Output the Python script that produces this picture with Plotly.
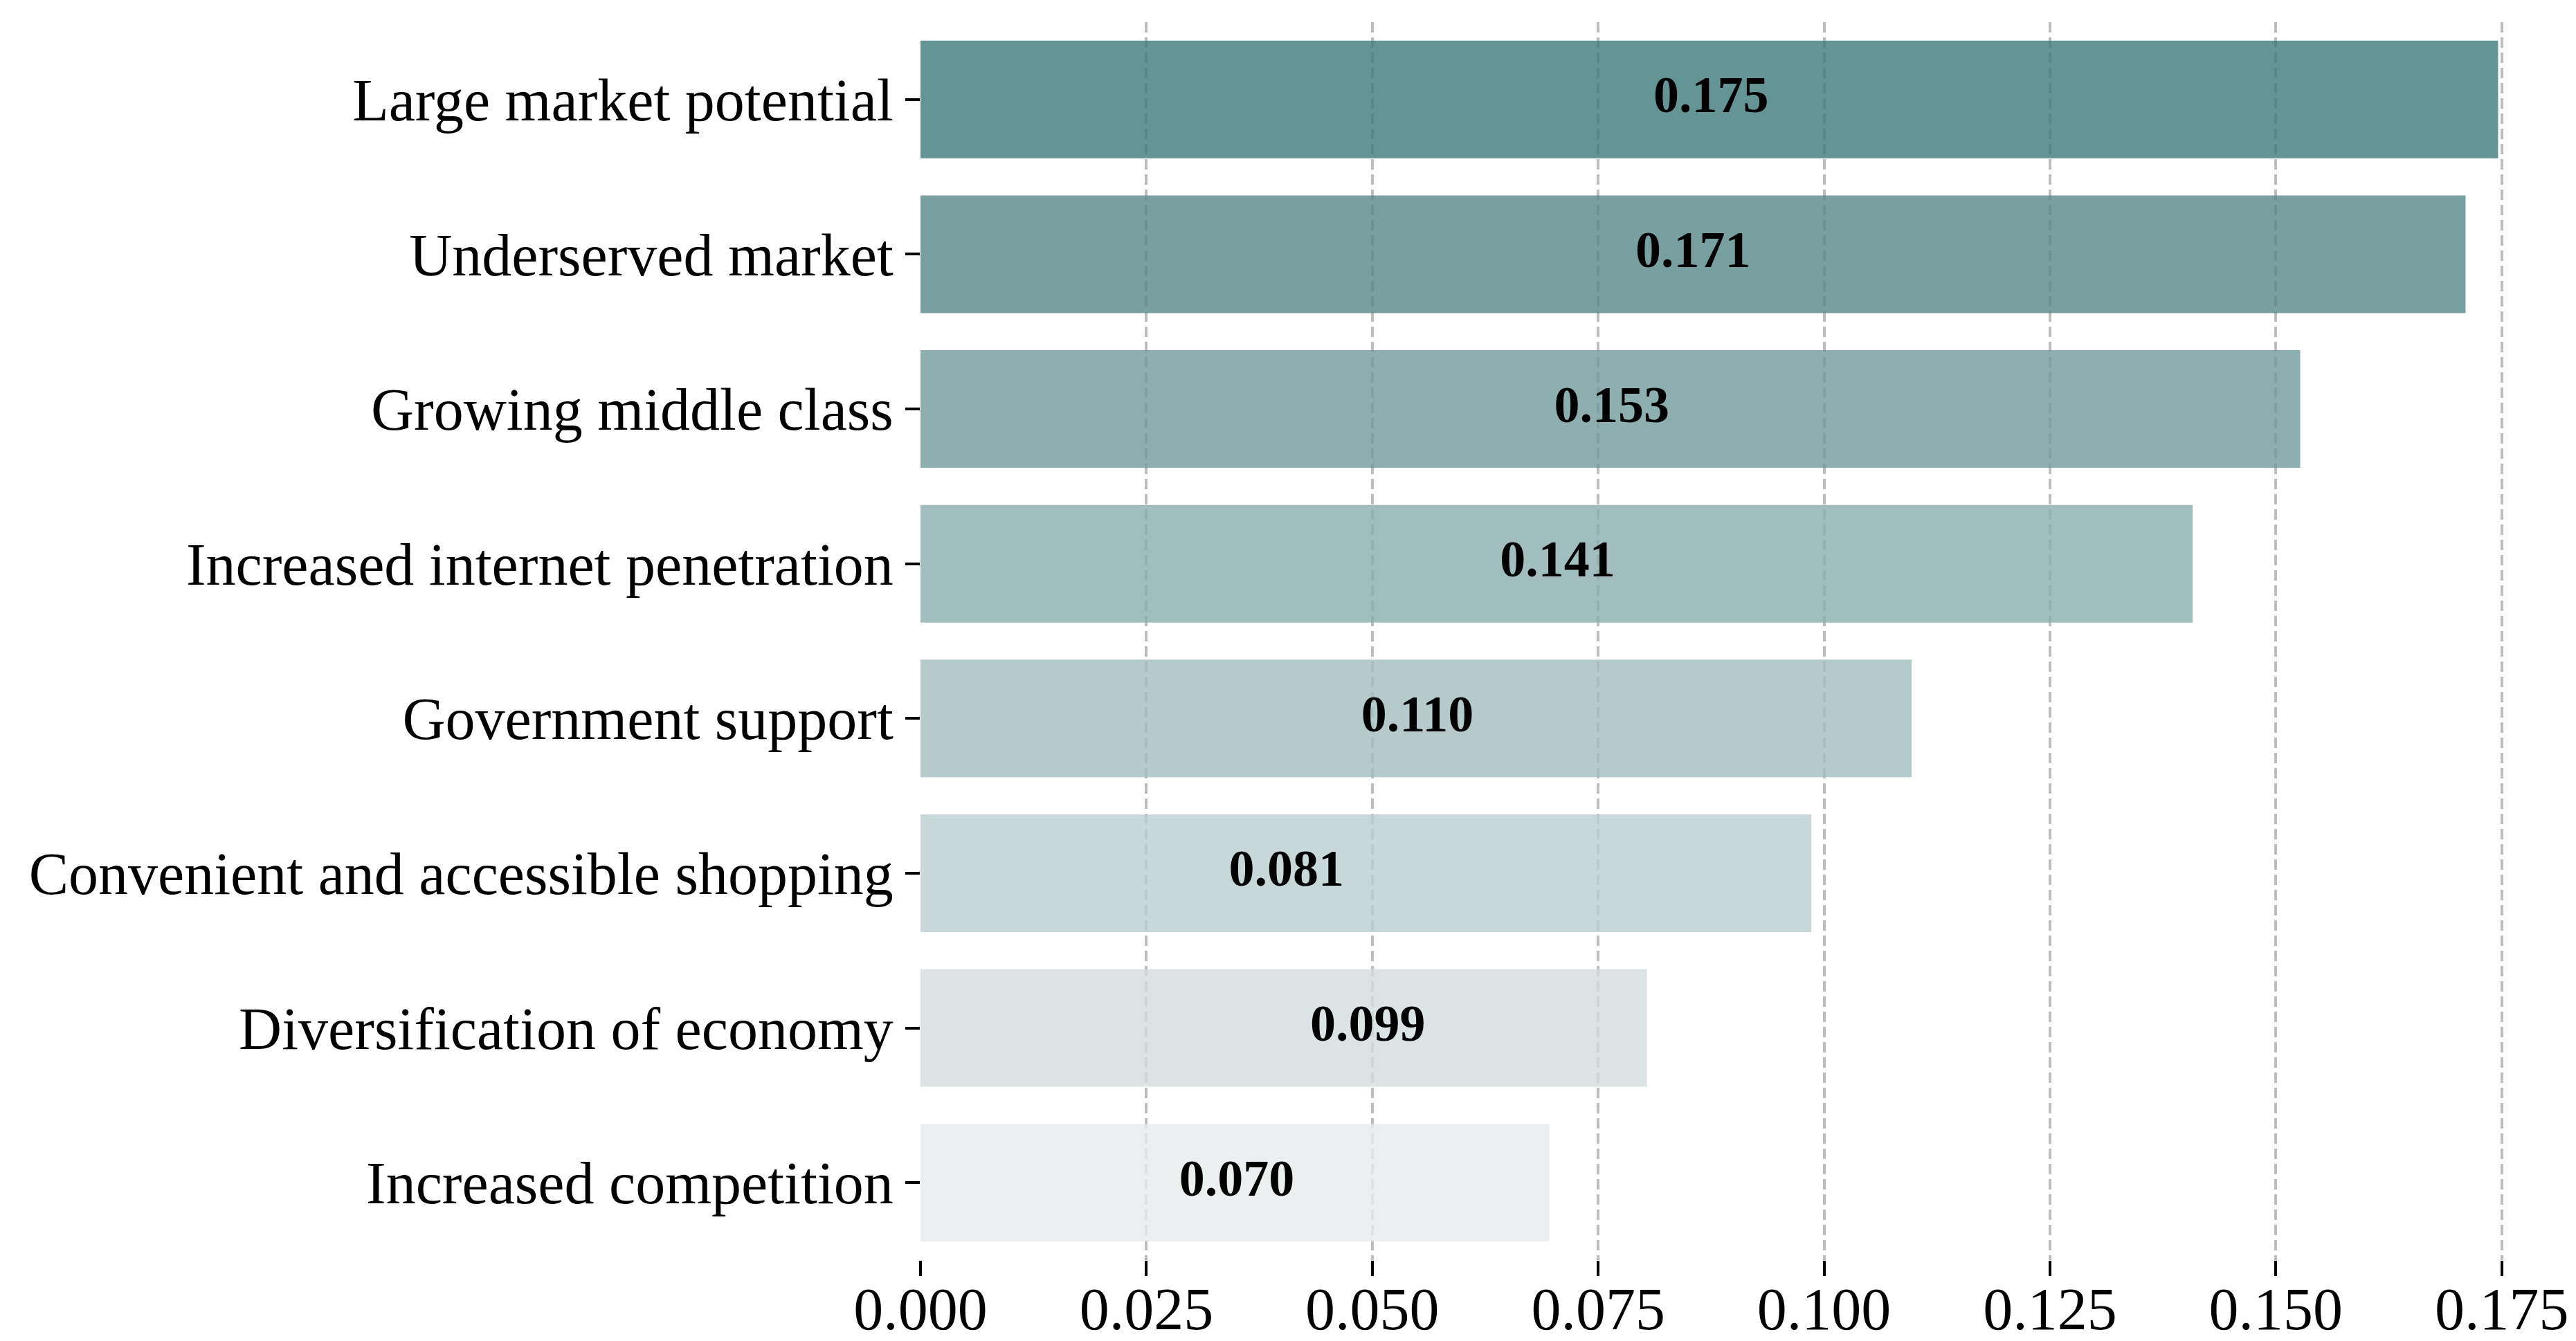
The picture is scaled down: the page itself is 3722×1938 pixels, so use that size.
import plotly.graph_objects as go

categories = [
    "Large market potential",
    "Underserved market",
    "Growing middle class",
    "Increased internet penetration",
    "Government support",
    "Convenient and accessible shopping",
    "Diversification of economy",
    "Increased competition",
]
bar_values = [0.1746, 0.171, 0.1527, 0.1408, 0.1097, 0.0986, 0.0804, 0.0696]
label_values = [0.175, 0.171, 0.153, 0.141, 0.110, 0.081, 0.099, 0.070]
tick_values = [0.000, 0.025, 0.050, 0.075, 0.100, 0.125, 0.150, 0.175]

# apparent colours on white (top to bottom)
shown_colors = ["#659494", "#79a0a0", "#8eafaf", "#a1bdbd",
                "#b5caca", "#c8d8d8", "#dbe3e4", "#ebeff0"]
ALPHA = 0.8


def base_color(hexc, a=ALPHA):
    h = hexc.lstrip("#")
    rgb = [int(h[i:i + 2], 16) for i in (0, 2, 4)]
    base = [max(0, min(255, round((c - (1 - a) * 255) / a))) for c in rgb]
    return "rgb(%d,%d,%d)" % tuple(base)


colors = [base_color(c) for c in shown_colors]

FONT = "Liberation Serif"

fig = go.Figure()
fig.add_trace(go.Bar(
    x=bar_values,
    y=categories,
    orientation="h",
    marker=dict(color=colors, opacity=ALPHA, line=dict(width=0)),
    width=0.76,
    hoverinfo="skip",
    showlegend=False,
))
fig.add_trace(go.Scatter(
    x=[v / 2 for v in label_values],
    y=categories,
    mode="text",
    text=["%.3f" % v for v in label_values],
    textposition="middle center",
    textfont=dict(family=FONT, size=74, color="black", weight="bold"),
    hoverinfo="skip",
    showlegend=False,
))

fig.update_layout(
    width=3722,
    height=1938,
    margin=dict(l=1322, r=7, t=24, b=125, autoexpand=False),
    paper_bgcolor="white",
    plot_bgcolor="white",
    font=dict(family=FONT, size=86, color="black"),
    xaxis=dict(
        range=[0, 0.1833],
        tickvals=tick_values,
        ticktext=["%.3f" % v for v in tick_values],
        showgrid=True,
        gridcolor="#bdbdbd",
        gridwidth=4,
        griddash="15px,7px",
        zeroline=False,
        showline=False,
        automargin=False,
        ticks="outside",
        ticklen=22,
        tickwidth=3.5,
        tickcolor="black",
        ticklabelstandoff=-26,
        tickfont=dict(family=FONT, size=86, color="black"),
    ),
    yaxis=dict(
        categoryorder="array",
        categoryarray=categories,
        range=[7.5, -0.5],
        showgrid=False,
        zeroline=False,
        showline=False,
        automargin=False,
        ticks="outside",
        ticklen=21,
        tickwidth=3.5,
        tickcolor="black",
        tickfont=dict(family=FONT, size=86, color="black"),
    ),
)

fig.write_html("out.html")
